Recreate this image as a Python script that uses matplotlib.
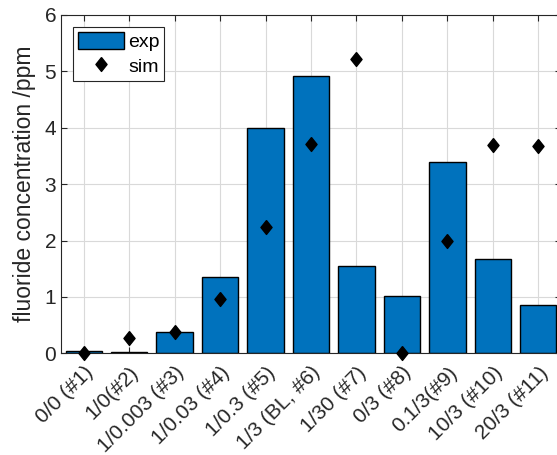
import numpy as np
import matplotlib.pyplot as plt

labels = ['0/0 (#1)', '1/0(#2)', '1/0.003 (#3)', '1/0.03 (#4)', '1/0.3 (#5)',
          '1/3 (BL, #6)', '1/30 (#7)', '0/3 (#8)', '0.1/3(#9)', '10/3 (#10)',
          '20/3 (#11)']
exp_vals = [0.04, 0.03, 0.38, 1.36, 4.0, 4.92, 1.545, 1.01, 3.385, 1.675, 0.86]
sim_vals = [0.0, 0.27, 0.38, 0.96, 2.24, 3.72, 5.22, 0.0, 2.0, 3.70, 3.68]

plt.rcParams['font.family'] = ['Liberation Sans', 'DejaVu Sans']
axcol = (0.15, 0.15, 0.15)


def main():
    fig = plt.figure(figsize=(5.57, 4.55), dpi=100)
    ax = fig.add_axes([61 / 557, 1 - 353.3 / 455, 500 / 557, 338.3 / 455])

    x = np.arange(1, len(labels) + 1)
    bars = ax.bar(x, exp_vals, width=0.8, color='#0072BD', edgecolor='black',
                  linewidth=1.0, label='exp', zorder=2)
    diamond = [(0, 1), (0.8, 0), (0, -1), (-0.8, 0), (0, 1)]
    pts, = ax.plot(x, sim_vals, linestyle='none', marker=diamond, markersize=10,
                   color='black', label='sim', zorder=3, clip_on=False)

    ax.set_xlim(0.5, 11.5)
    ax.set_ylim(0, 6)
    ax.set_xticks(x)
    ax.set_xticklabels(labels, rotation=45, ha='right', rotation_mode='anchor')
    ax.set_yticks(range(7))
    ax.set_ylabel('fluoride concentration /ppm', fontsize=16.5, color=axcol,
                  labelpad=6)

    ax.grid(True, color=(0.85, 0.85, 0.85), linewidth=0.8, zorder=0)
    ax.set_axisbelow(True)
    ax.tick_params(direction='in', length=4, top=True, right=True,
                   labelsize=15, colors=axcol, width=0.8)
    ax.tick_params(axis='x', pad=7)
    for s in ax.spines.values():
        s.set_color(axcol)
        s.set_linewidth(0.8)

    leg = ax.legend([bars, pts], ['exp', 'sim'], loc='upper left', fontsize=14,
                    handlelength=2.4, handleheight=1.0, fancybox=False,
                    framealpha=1, edgecolor=axcol, borderaxespad=0.6,
                    labelspacing=0.3, handletextpad=0.2, borderpad=0.25)
    leg.get_frame().set_linewidth(0.8)

    plt.savefig('out.png', dpi=100)


if __name__ == '__main__':
    main()
